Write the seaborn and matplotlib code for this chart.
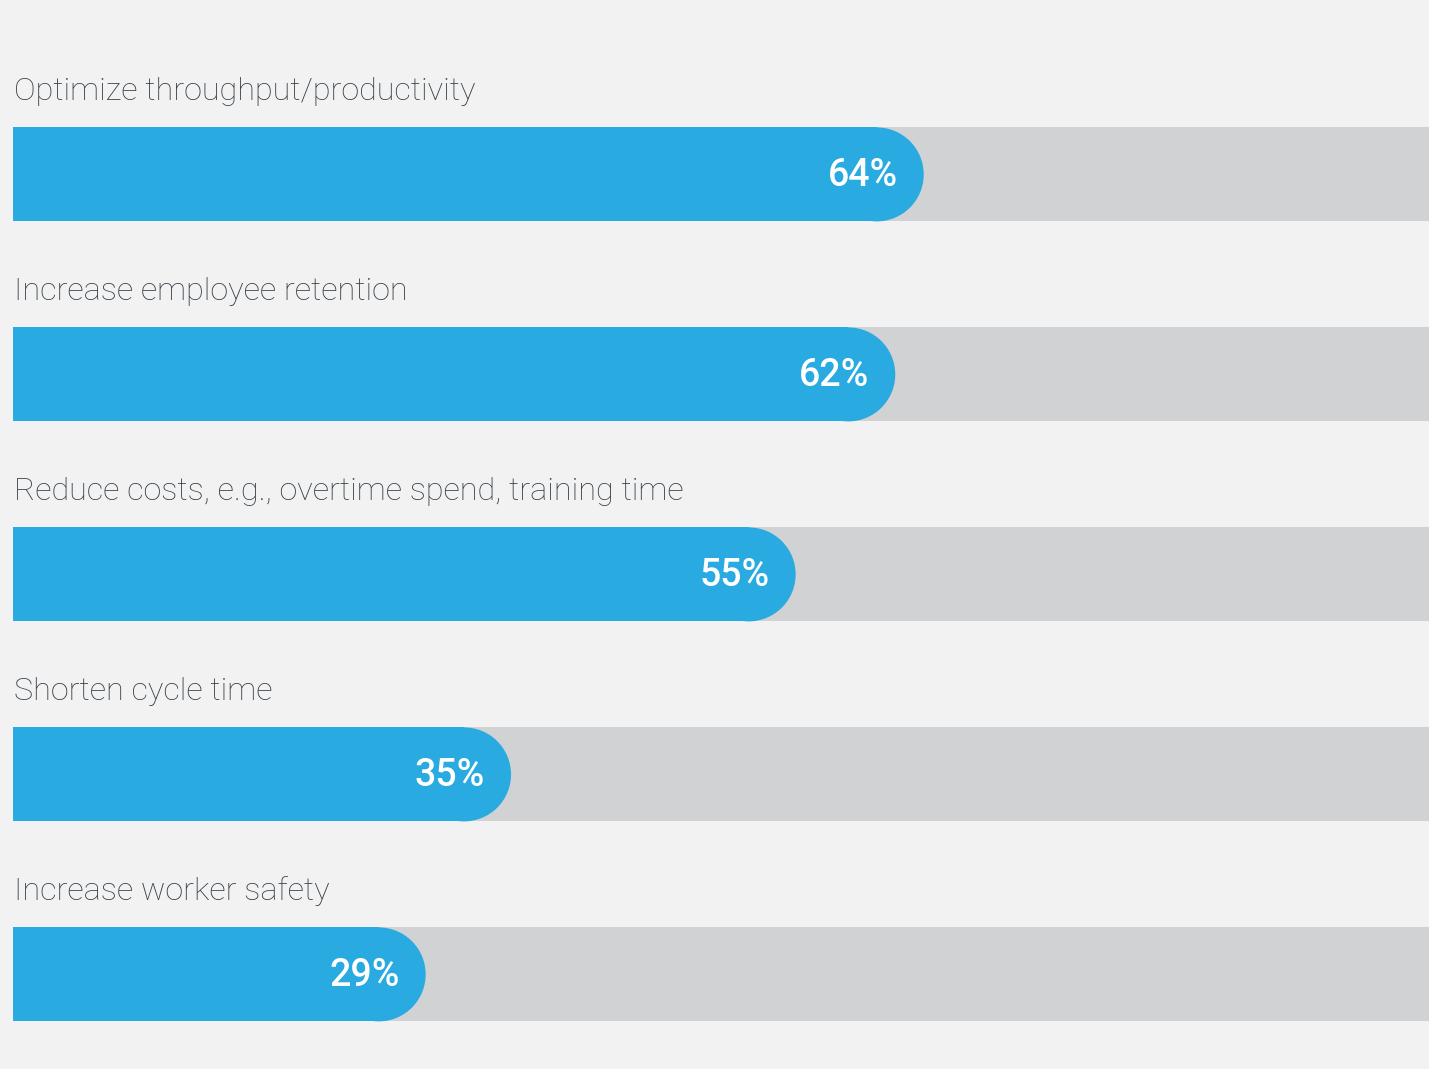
import matplotlib
matplotlib.use('Agg')
import matplotlib.pyplot as plt
from matplotlib.patches import Ellipse
import seaborn as sns
import pandas as pd

categories = ['Optimize throughput/productivity',
              'Increase employee retention',
              'Reduce costs, e.g., overtime spend, training time',
              'Shorten cycle time',
              'Increase worker safety']
values = [64, 62, 55, 35, 29]
track = [100, 100, 100, 100, 100]

BG = '#f2f2f2'
BLUE = '#29aae1'
GREY = '#d1d2d4'
TEXT = '#36404a'

sns.set_theme(style='white')
plt.rcParams['font.family'] = ['Roboto', 'DejaVu Sans']

df = pd.DataFrame({'label': categories, 'value': values, 'track': track})

W, H, DPI = 1429, 1069, 100
fig = plt.figure(figsize=(W / DPI, H / DPI), dpi=DPI, facecolor=BG)
ax = fig.add_axes([0, 0, 1, 1])
ax.set_facecolor(BG)

bar_h = 0.47
sns.barplot(data=df, x='track', y='label', color=GREY, width=bar_h,
            saturation=1, ax=ax)
n_track = len(ax.patches)
sns.barplot(data=df, x='value', y='label', color=BLUE, width=bar_h,
            saturation=1, ax=ax)

px_per_unit = 14.23
ax.set_xlim(-13 / px_per_unit, (W - 13) / px_per_unit)
ax.set_ylim((H - 174.4) / 200, -174.4 / 200)

# rounded right end: shorten the rectangle and cap it with a half-circle
r = bar_h * 200 / 2 / px_per_unit
for p, v in zip(ax.patches[n_track:], values):
    p.set_width(v - r)
    p.set_linewidth(0)
    yc = p.get_y() + p.get_height() / 2
    ax.add_patch(Ellipse((v - r, yc), 2 * r, p.get_height(),
                         facecolor=BLUE, edgecolor='none', zorder=p.get_zorder()))
    ax.text(v - 26 / px_per_unit, yc + 0.005, f'{v}%', ha='right', va='center',
            color='white', fontsize=27, fontweight='medium', zorder=5)
for p in ax.patches[:n_track]:
    p.set_linewidth(0)

for i, lab in enumerate(categories):
    ax.text(0.07, i - 0.415, lab, ha='left', va='center', color=TEXT,
            fontsize=23.3, fontweight='light')

ax.set_axis_off()
fig.savefig('out.png', dpi=DPI, facecolor=BG)
